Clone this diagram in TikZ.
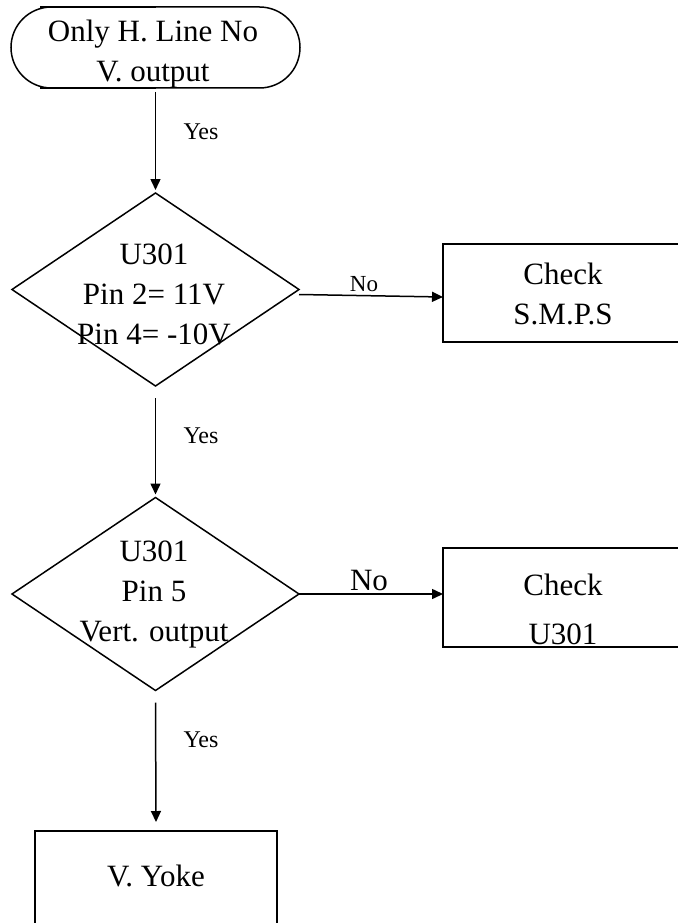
\documentclass[tikz,border=0pt]{standalone}
\usepackage{fontspec}
\setmainfont{Liberation Serif}
\usetikzlibrary{shapes.geometric,shapes.misc,arrows.meta}
\begin{document}
\begin{tikzpicture}[x=1pt,y=-1pt,
  shp/.style={draw=black,line width=1.5pt,inner sep=0pt,outer sep=0pt},
  dia/.style={shp,diamond,minimum width=287pt,minimum height=193pt},
  boxn/.style={shp,rectangle},
  txt/.style={inner sep=0pt,align=center,font=\fontsize{31}{40}\selectfont},
  lbl/.style={inner sep=0pt,font=\fontsize{24}{28}\selectfont},
  arr/.style={line width=1.5pt,-{Triangle[length=11pt,width=10pt]}}]
\useasboundingbox (0,0) rectangle (677,923);
% terminator
\node[shp,rounded rectangle,rounded rectangle arc length=180,minimum width=289pt,minimum height=81pt] (t) at (155.5,47.5) {};
\draw[line width=1.5pt] ([xshift=-115.5pt]t.north) -- (t.north);
\draw[line width=1.5pt] ([xshift=-115.5pt]t.south) -- (t.south);
\node[txt] (tt) at (153,54) {Only H. Line No\\V.\ output};
% decision 1
\node[dia] (d1) at (155.5,289.5) {};
\node[txt] (d1t) at (154,294) {U301\\Pin 2= 11V\\Pin 4= -10V};
% box 1
\node[boxn,minimum width=256pt,minimum height=98pt] (b1) at (571,293) {};
\node[txt] (b1t) at (563,294) {Check\\S.M.P.S};
% decision 2
\node[dia] (d2) at (155.5,594) {};
\node[txt] (d2t) at (154,594) {U301\\Pin 5\\Vert. output};
% box 2
\node[boxn,minimum width=256pt,minimum height=99pt] (b2) at (571,597.5) {};
\node[txt,font=\fontsize{31}{49}\selectfont] (b2t) at (563,609) {Check\\U301};
% box 3
\node[boxn,minimum width=242pt,minimum height=110pt] (b3) at (156,886) {};
\node[txt] (b3t) at (156,876) {V. Yoke};
% connectors
\draw[arr] ([yshift=-4pt]t.south) -- ([yshift=3pt]d1.north);
\draw[arr] ([yshift=-12pt]d1.south) -- ([yshift=3pt]d2.north);
\draw[arr] ([yshift=-12pt]d2.south) -- ([yshift=9pt]b3.north);
\draw[arr] ([yshift=-5pt]d1.east) -- ([yshift=-4pt]b1.west);
\draw[arr] (d2.east) -- ([yshift=3.5pt]b2.west);
% labels
\node[lbl] (y1) at (201,132) {Yes};
\node[lbl] (y2) at (201,436) {Yes};
\node[lbl] (y3) at (201,740) {Yes};
\node[lbl,font=\fontsize{23}{27}\selectfont] (n1) at (364,284) {No};
\node[txt] (n2) at (369,580) {No};
\end{tikzpicture}
\end{document}
